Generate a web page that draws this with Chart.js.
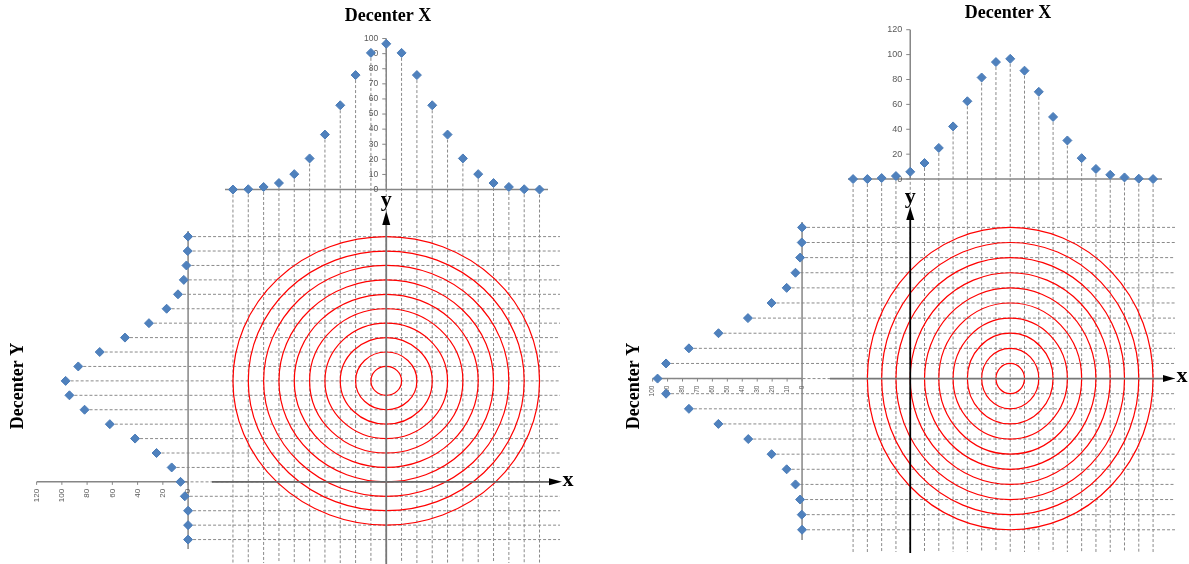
<!DOCTYPE html>
<html>
<head>
<meta charset="utf-8">
<title>Decenter X / Decenter Y</title>
<script src="https://cdn.jsdelivr.net/npm/chart.js@4.4.1/dist/chart.umd.min.js"></script>
<style>
  body { margin: 0; background: #fff; }
  #leftPanel { position: absolute; left: 0; top: 0; }
  #rightPanel { position: absolute; left: 600px; top: 0; }
</style>
</head>
<body>
<canvas id="leftPanel" width="600" height="564"></canvas>
<canvas id="rightPanel" width="589" height="564"></canvas>
<script>
// left figure: Decenter X on top (21 steps), Decenter Y at the side (22 steps, top to bottom)
var leftXValues = [0, 0.2, 1.7, 4.3, 10.2, 20.6, 36.4, 55.8, 75.8, 90.5, 96.5, 90.5, 75.8, 55.8, 36.4, 20.6, 10.2, 4.3, 1.7, 0.2, 0];
var leftYValues = [0, 0.3, 1.3, 3.4, 8, 17, 31, 50, 70, 87, 97, 94, 82, 62, 42, 25, 13, 6, 2.6, 0, 0, 0];
var leftXTicks = [0, 10, 20, 30, 40, 50, 60, 70, 80, 90, 100];
var leftYTicks = [0, 20, 40, 60, 80, 100, 120];
var leftRings = [1, 2, 3, 4, 5, 6, 7, 8, 9, 10];

// right figure: Decenter X on top (22 steps), Decenter Y at the side (21 steps)
var rightXValues = [0, 0, 0.8, 2.4, 5.8, 12.9, 25, 42.3, 62.5, 81.6, 94, 96.6, 87.1, 70.1, 49.9, 31, 16.8, 8.1, 3.4, 1.3, 0.3, 0];
var rightYValues = [0, 0.2, 1.3, 4.4, 10.3, 20.4, 36.2, 55.9, 75.7, 91, 96.7, 91, 75.7, 56, 36, 20.4, 10.3, 4.4, 1.3, 0.2, 0];
var rightXTicks = [0, 20, 40, 60, 80, 100, 120];
var rightYTicks = [0, 10, 20, 30, 40, 50, 60, 70, 80, 90, 100];
var rightRings = [1, 2, 3, 4, 5, 6, 7, 8, 9, 10];

var GRID = '#8a8a8a';
var AXIS = '#868686';
var TICK_TEXT = '#595959';
var POINT = '#4f81bd';
var SERIF = '"Liberation Serif", "DejaVu Serif", serif';
var SANS = '"Liberation Sans", Arial, sans-serif';

// where things sit on each canvas; [value, pixel, value, pixel] pins a scale
var leftLayout = {
  xStep: [0, 231.7, 20, 544.0],
  topValue: [0, 187.7, 100, 33.7],
  yStep: [0, 235.7, 21, 544.7],
  sideValue: [0, 186, 120, 31.7],
  center: [10, 10],
  topAxisAt: 10, topBase: [225, 548],
  sideAxisAt: 17, sideCat: [231, 549],
  gridBottom: 563, gridRight: 560,
  mainXAt: 17, mainX: [212, 549, 562], mainXColor: '#666',
  mainYAt: 10, mainY: [565, 225, 211], mainYColor: '#777',
  title: [388, 16], sideTitle: [18, 386], xLabel: 568, yLabel: 200,
  tickFont: 8.5, sideTickFont: 8
};
var rightLayout = {
  xStep: [0, 252.3, 21, 558],
  topValue: [0, 177, 120, 24.7],
  yStep: [0, 226.3, 20, 534.7],
  sideValue: [0, 200.3, 100, 48],
  center: [11, 10],
  topAxisAt: 4, topBase: [248, 562],
  sideAxisAt: 10, sideCat: [222, 540],
  gridBottom: 552, gridRight: 575,
  mainXAt: 10, mainX: [230, 563, 575], mainXColor: '#777',
  mainYAt: 4, mainY: [553, 220, 207], mainYColor: '#000',
  title: [408, 13], sideTitle: [34, 386], xLabel: 582, yLabel: 197,
  tickFont: 9, sideTickFont: 6.5
};

// hidden linear scale whose min/max put two values on two given pixels
function pin(p, size, vertical) {
  var k = (p[3] - p[1]) / (p[2] - p[0]);
  var a = p[0] - p[1] / k, b = p[0] + (size - p[1]) / k;
  return {
    type: 'linear', display: false, bounds: 'data',
    axis: vertical ? 'y' : 'x',
    min: Math.min(a, b), max: Math.max(a, b),
    reverse: vertical ? (a < b) : (a > b)
  };
}

function line(ctx, x1, y1, x2, y2) {
  ctx.beginPath();
  ctx.moveTo(x1, y1);
  ctx.lineTo(x2, y2);
  ctx.stroke();
}

function tri(ctx, pts) {
  ctx.beginPath();
  ctx.moveTo(pts[0], pts[1]);
  ctx.lineTo(pts[2], pts[3]);
  ctx.lineTo(pts[4], pts[5]);
  ctx.closePath();
  ctx.fill();
}

function makePanel(canvasId, xValues, yValues, xTicks, yTicks, rings, L) {
  var canvas = document.getElementById(canvasId);
  var W = canvas.width, H = canvas.height;

  var decor = {
    id: 'decor',
    beforeDatasetsDraw: function (chart) {
      var s = chart.scales, ctx = chart.ctx;
      var px = function (v) { return s.x.getPixelForValue(v); };
      var py = function (v) { return s.y.getPixelForValue(v); };
      var tv = function (v) { return s.yTop.getPixelForValue(v); };
      var sv = function (v) { return s.xSide.getPixelForValue(v); };
      ctx.save();

      // drop lines from every point across the field
      ctx.strokeStyle = GRID;
      ctx.lineWidth = 1;
      ctx.setLineDash([3, 2]);
      xValues.forEach(function (v, i) { line(ctx, px(i), tv(v), px(i), L.gridBottom); });
      yValues.forEach(function (v, i) { line(ctx, sv(v), py(i), L.gridRight, py(i)); });
      ctx.setLineDash([]);

      // contour rings
      var cx = px(L.center[0]), cy = py(L.center[1]);
      ctx.strokeStyle = '#ff0000';
      ctx.lineWidth = 1.2;
      rings.forEach(function (r) {
        var rx = Math.abs(px(L.center[0] + r) - cx);
        var ry = Math.abs(py(L.center[1] + r) - cy);
        ctx.beginPath();
        ctx.ellipse(cx, cy, rx, ry, 0, 0, Math.PI * 2);
        ctx.stroke();
      });

      // top chart axes
      ctx.strokeStyle = AXIS;
      ctx.lineWidth = 1.5;
      var ax = px(L.topAxisAt);
      var topMax = xTicks[xTicks.length - 1];
      line(ctx, L.topBase[0], tv(0), L.topBase[1], tv(0));
      line(ctx, ax, tv(0), ax, tv(topMax));
      ctx.fillStyle = TICK_TEXT;
      ctx.font = L.tickFont + 'px ' + SANS;
      ctx.textAlign = 'right';
      ctx.textBaseline = 'middle';
      ctx.lineWidth = 1;
      xTicks.forEach(function (t) {
        line(ctx, ax - 4, tv(t), ax, tv(t));
        ctx.fillText(String(t), ax - 8, tv(t));
      });

      // side chart axes
      ctx.lineWidth = 1.5;
      var ay = py(L.sideAxisAt);
      var sideMax = yTicks[yTicks.length - 1];
      line(ctx, sv(0), L.sideCat[0], sv(0), L.sideCat[1]);
      line(ctx, sv(sideMax), ay, sv(0), ay);
      ctx.lineWidth = 1;
      ctx.font = L.sideTickFont + 'px ' + SANS;
      yTicks.forEach(function (t) {
        var x = sv(t);
        line(ctx, x, ay, x, ay + 3);
        ctx.save();
        ctx.translate(x, ay + 7);
        ctx.rotate(-Math.PI / 2);
        ctx.textAlign = 'right';
        ctx.textBaseline = 'middle';
        ctx.fillText(String(t), 0, 0);
        ctx.restore();
      });

      // main x / y axes with arrow heads
      ctx.lineWidth = 1.8;
      var my = py(L.mainXAt);
      ctx.strokeStyle = L.mainXColor;
      line(ctx, L.mainX[0], my, L.mainX[1], my);
      var mx = px(L.mainYAt);
      ctx.strokeStyle = L.mainYColor;
      line(ctx, mx, L.mainY[0], mx, L.mainY[1]);
      ctx.fillStyle = '#000';
      tri(ctx, [L.mainX[2], my, L.mainX[1], my - 3.5, L.mainX[1], my + 3.5]);
      tri(ctx, [mx, L.mainY[2], mx - 4, L.mainY[1], mx + 4, L.mainY[1]]);
      ctx.font = 'bold 22px ' + SERIF;
      ctx.textAlign = 'center';
      ctx.textBaseline = 'middle';
      ctx.fillText('x', L.xLabel, my - 2);
      ctx.fillText('y', mx, L.yLabel);

      // titles
      ctx.font = 'bold 18px ' + SERIF;
      ctx.fillText('Decenter X', L.title[0], L.title[1]);
      ctx.save();
      ctx.translate(L.sideTitle[0], L.sideTitle[1]);
      ctx.rotate(-Math.PI / 2);
      ctx.fillText('Decenter Y', 0, 0);
      ctx.restore();

      ctx.restore();
    }
  };

  return new Chart(canvas, {
    type: 'scatter',
    data: {
      datasets: [{
        label: 'Decenter X',
        data: xValues.map(function (v, i) { return { x: i, y: v }; }),
        xAxisID: 'x',
        yAxisID: 'yTop'
      }, {
        label: 'Decenter Y',
        data: yValues.map(function (v, i) { return { x: v, y: i }; }),
        xAxisID: 'xSide',
        yAxisID: 'y'
      }]
    },
    options: {
      responsive: false,
      animation: false,
      layout: { padding: 0 },
      elements: {
        point: {
          pointStyle: 'rectRot',
          radius: 4.5,
          backgroundColor: POINT,
          borderColor: '#4a7bb7',
          borderWidth: 1
        }
      },
      plugins: {
        legend: { display: false },
        tooltip: { enabled: false }
      },
      scales: {
        x: pin(L.xStep, W, false),
        yTop: pin(L.topValue, H, true),
        y: pin(L.yStep, H, true),
        xSide: pin(L.sideValue, W, false)
      }
    },
    plugins: [decor]
  });
}

makePanel('leftPanel', leftXValues, leftYValues, leftXTicks, leftYTicks, leftRings, leftLayout);
makePanel('rightPanel', rightXValues, rightYValues, rightXTicks, rightYTicks, rightRings, rightLayout);
</script>
</body>
</html>
